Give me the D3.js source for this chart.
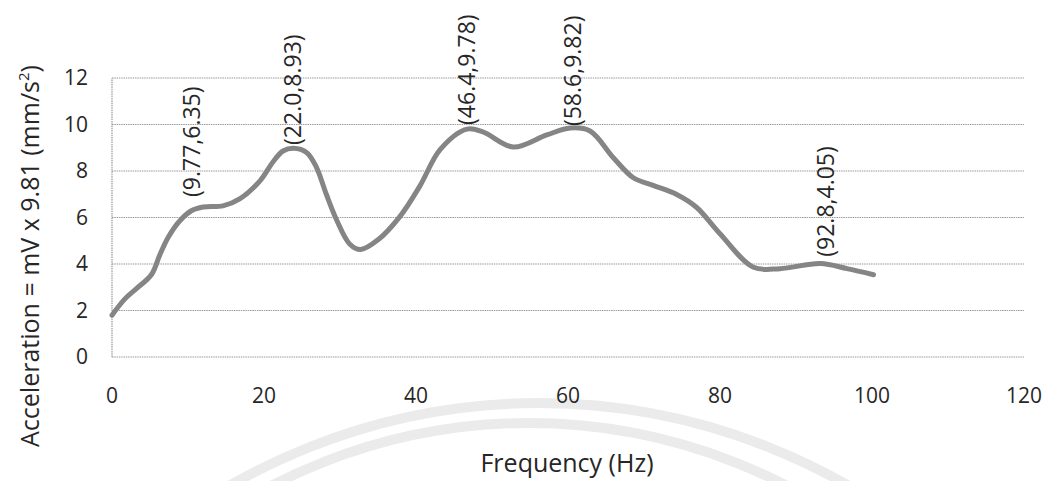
<!DOCTYPE html>
<html lang="en">
<head>
    <meta charset="UTF-8">
    <title>Frequency vs Acceleration</title>
    <script src="https://d3js.org/d3.v7.min.js"></script>
    <style>
        body {
            margin: 0;
            background: #ffffff;
        }

        .tick-label {
            font-family: "Open Sans", sans-serif;
            font-size: 21px;
            fill: #262626;
        }

        .axis-title {
            font-family: "Open Sans", sans-serif;
            font-size: 25px;
            fill: #262626;
        }

        .annot {
            font-family: "Open Sans", sans-serif;
            font-size: 23px;
            fill: #262626;
        }
    </style>
</head>
<body>
<svg width="1046" height="481"></svg>

<script>
    // valores (Hz, aceleración)
    const freq = [0, 1.7, 3.25, 5.2, 6.3, 7.4, 8.9, 10.5, 12.0, 14.6, 16.8, 19.5, 21.2, 22.5, 23.9, 25.6,
        26.9, 28.2, 29.6, 31.3, 32.7, 35.0, 37.9, 40.5, 43.2, 46.7, 48.8, 52.8, 57.2, 60.3, 62.9,
        66.0, 68.6, 71.2, 74.3, 76.9, 80.0, 84.4, 87.9, 93.2, 96.7, 100.2]
    const accel = [1.8, 2.5, 2.95, 3.55, 4.4, 5.15, 5.85, 6.3, 6.45, 6.5, 6.8, 7.59, 8.4, 8.86, 8.98, 8.8,
        8.16, 7.0, 5.86, 4.85, 4.62, 5.04, 6.05, 7.35, 8.93, 9.8, 9.68, 9.03, 9.55, 9.85, 9.72,
        8.56, 7.71, 7.38, 6.99, 6.44, 5.3, 3.86, 3.8, 4.02, 3.8, 3.54]

    // etiquetas de los picos
    const annotText = ["(9.77,6.35)", "(22.0,8.93)", "(46.4,9.78)", "(58.6,9.82)", "(92.8,4.05)"]
    const annotFreq = [10.5, 23.8, 46.7, 60.7, 94.0]
    const annotAccel = [6.71, 8.95, 9.81, 9.76, 4.14]

    const xTicks = [0, 20, 40, 60, 80, 100, 120]
    const yTicks = [0, 2, 4, 6, 8, 10, 12]

    const svg = d3.select("svg")

    const x = d3.scaleLinear().domain([0, 120]).range([112, 1024])
    const y = d3.scaleLinear().domain([0, 12]).range([357, 78])

    // marca de agua (arcos claros del escaneo)
    svg.append("circle")
        .attr("cx", 539).attr("cy", 1023).attr("r", 620)
        .attr("fill", "none").attr("stroke", "#ebebeb").attr("stroke-width", 10)
    svg.append("circle")
        .attr("cx", 529).attr("cy", 983).attr("r", 560)
        .attr("fill", "none").attr("stroke", "#ebebeb").attr("stroke-width", 10)

    // lineas horizontales
    svg.selectAll("line.grid")
        .data(yTicks)
        .enter()
        .append("line")
        .attr("class", "grid")
        .attr("x1", x(0))
        .attr("x2", x(120))
        .attr("y1", d => y(d))
        .attr("y2", d => y(d))
        .attr("stroke", "#9a9a9a")
        .attr("stroke-width", 1.2)
        .attr("stroke-dasharray", "1.5,0.8")

    // linea vertical izq
    svg.append("line")
        .attr("x1", x(0))
        .attr("x2", x(0))
        .attr("y1", y(0))
        .attr("y2", y(12))
        .attr("stroke", "#9a9a9a")
        .attr("stroke-width", 1.2)
        .attr("stroke-dasharray", "1.5,0.8")

    // números eje y
    svg.selectAll("text.ylab")
        .data(yTicks)
        .enter()
        .append("text")
        .attr("class", "tick-label")
        .attr("x", 88)
        .attr("y", d => y(d))
        .attr("dy", "0.35em")
        .attr("text-anchor", "end")
        .text(d => d)

    // números eje x
    svg.selectAll("text.xlab")
        .data(xTicks)
        .enter()
        .append("text")
        .attr("class", "tick-label")
        .attr("x", d => x(d))
        .attr("y", 396)
        .attr("dy", "0.35em")
        .attr("text-anchor", "middle")
        .text(d => d)

    // curva
    const pts = freq.map((f, i) => [f, accel[i]])
    const line = d3.line()
        .x(d => x(d[0]))
        .y(d => y(d[1]))
        .curve(d3.curveCatmullRom.alpha(0.5))

    svg.append("path")
        .datum(pts)
        .attr("d", line)
        .attr("fill", "none")
        .attr("stroke", "#858585")
        .attr("stroke-width", 5)
        .attr("stroke-linecap", "round")

    // etiquetas verticales
    svg.selectAll("text.annot")
        .data(annotText)
        .enter()
        .append("text")
        .attr("class", "annot")
        .attr("transform", (d, i) => "translate(" + (x(annotFreq[i]) + 8) + "," + (y(annotAccel[i]) - 4) + ") rotate(-90)")
        .attr("text-anchor", "start")
        .text(d => d)

    // títulos
    svg.append("text")
        .attr("class", "axis-title")
        .attr("x", 567)
        .attr("y", 463)
        .attr("dy", "0.35em")
        .attr("text-anchor", "middle")
        .text("Frequency (Hz)")

    const yt = svg.append("text")
        .attr("class", "axis-title")
        .attr("transform", "translate(30,256) rotate(-90)")
        .attr("dy", "0.35em")
        .attr("text-anchor", "middle")
    yt.append("tspan").text("Acceleration = mV x 9.81 (mm/s")
    yt.append("tspan").attr("baseline-shift", "super").attr("font-size", "15px").text("2")
    yt.append("tspan").text(")")
</script>
</body>
</html>
